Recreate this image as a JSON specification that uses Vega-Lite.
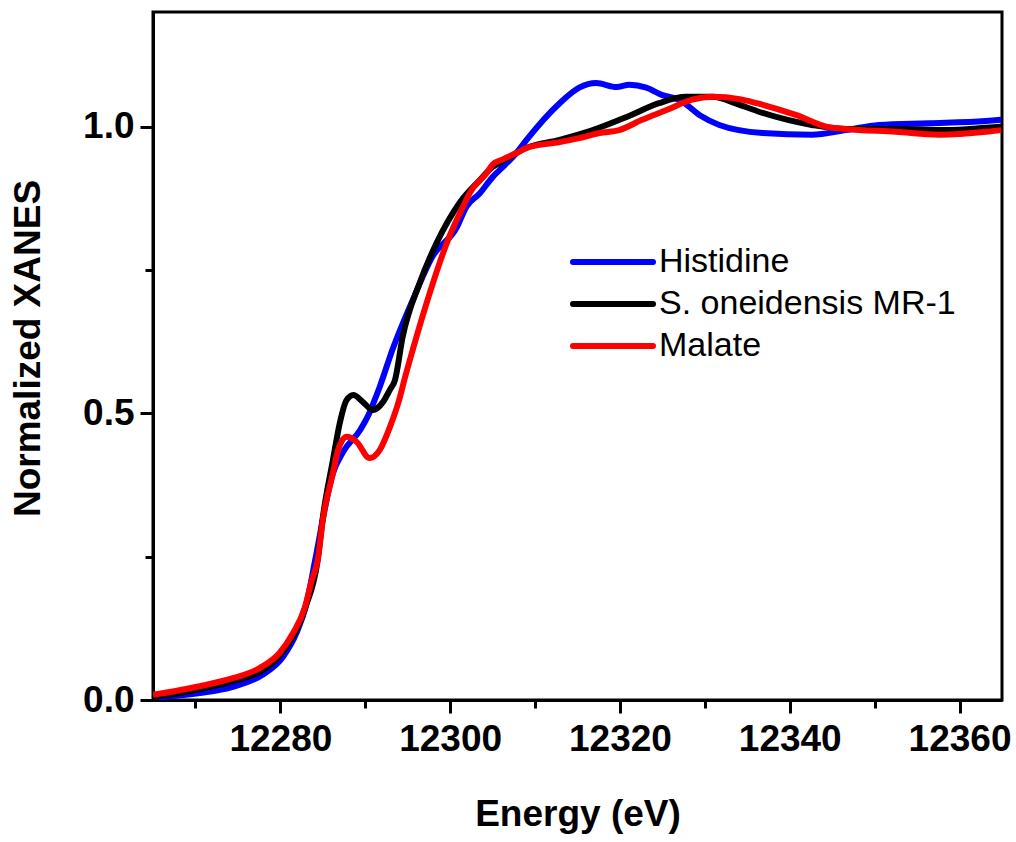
{
  "$schema": "https://vega.github.io/schema/vega-lite/v6.json",
  "autosize": {"type": "none"},
  "width": 849,
  "height": 688,
  "padding": {"left": 153, "top": 12, "right": 14, "bottom": 142},
  "background": "white",
  "config": {
    "font": "Liberation Sans",
    "view": {"stroke": "black", "strokeWidth": 3},
    "axis": {"domainColor": "black", "domainWidth": 3, "tickColor": "black", "tickWidth": 3, "tickSize": 13, "labelFont": "Liberation Sans", "labelFontSize": 37, "labelFontWeight": "bold", "labelColor": "black", "titleFont": "Liberation Sans", "titleFontSize": 37, "titleFontWeight": "bold", "titleColor": "black", "grid": false}
  },
  "data": {"values": [
    {"s": "Histidine", "e": 12265.0, "v": 0.004},
    {"s": "Histidine", "e": 12270.5, "v": 0.012},
    {"s": "Histidine", "e": 12274.4, "v": 0.023},
    {"s": "Histidine", "e": 12277.9, "v": 0.044},
    {"s": "Histidine", "e": 12280.3, "v": 0.075},
    {"s": "Histidine", "e": 12281.9, "v": 0.117},
    {"s": "Histidine", "e": 12283.1, "v": 0.169},
    {"s": "Histidine", "e": 12284.1, "v": 0.244},
    {"s": "Histidine", "e": 12286.2, "v": 0.396},
    {"s": "Histidine", "e": 12287.4, "v": 0.433},
    {"s": "Histidine", "e": 12289.4, "v": 0.471},
    {"s": "Histidine", "e": 12290.5, "v": 0.501},
    {"s": "Histidine", "e": 12291.1, "v": 0.523},
    {"s": "Histidine", "e": 12291.7, "v": 0.546},
    {"s": "Histidine", "e": 12293.2, "v": 0.611},
    {"s": "Histidine", "e": 12295.6, "v": 0.698},
    {"s": "Histidine", "e": 12297.9, "v": 0.773},
    {"s": "Histidine", "e": 12300.8, "v": 0.825},
    {"s": "Histidine", "e": 12301.9, "v": 0.860},
    {"s": "Histidine", "e": 12303.5, "v": 0.884},
    {"s": "Histidine", "e": 12305.0, "v": 0.912},
    {"s": "Histidine", "e": 12305.8, "v": 0.924},
    {"s": "Histidine", "e": 12307.8, "v": 0.954},
    {"s": "Histidine", "e": 12309.0, "v": 0.977},
    {"s": "Histidine", "e": 12312.9, "v": 1.041},
    {"s": "Histidine", "e": 12315.2, "v": 1.068},
    {"s": "Histidine", "e": 12317.2, "v": 1.076},
    {"s": "Histidine", "e": 12319.6, "v": 1.069},
    {"s": "Histidine", "e": 12321.1, "v": 1.073},
    {"s": "Histidine", "e": 12323.1, "v": 1.068},
    {"s": "Histidine", "e": 12325.0, "v": 1.055},
    {"s": "Histidine", "e": 12327.0, "v": 1.047},
    {"s": "Histidine", "e": 12329.4, "v": 1.020},
    {"s": "Histidine", "e": 12331.7, "v": 1.003},
    {"s": "Histidine", "e": 12336.8, "v": 0.989},
    {"s": "Histidine", "e": 12342.6, "v": 0.986},
    {"s": "Histidine", "e": 12346.6, "v": 0.994},
    {"s": "Histidine", "e": 12350.5, "v": 1.003},
    {"s": "Histidine", "e": 12356.4, "v": 1.006},
    {"s": "Histidine", "e": 12363.1, "v": 1.010},
    {"s": "Histidine", "e": 12364.9, "v": 1.012},
    {"s": "S. oneidensis MR-1", "e": 12265.0, "v": 0.005},
    {"s": "S. oneidensis MR-1", "e": 12270.5, "v": 0.019},
    {"s": "S. oneidensis MR-1", "e": 12274.4, "v": 0.033},
    {"s": "S. oneidensis MR-1", "e": 12277.9, "v": 0.052},
    {"s": "S. oneidensis MR-1", "e": 12280.3, "v": 0.084},
    {"s": "S. oneidensis MR-1", "e": 12282.9, "v": 0.160},
    {"s": "S. oneidensis MR-1", "e": 12284.4, "v": 0.244},
    {"s": "S. oneidensis MR-1", "e": 12285.0, "v": 0.318},
    {"s": "S. oneidensis MR-1", "e": 12286.2, "v": 0.419},
    {"s": "S. oneidensis MR-1", "e": 12287.0, "v": 0.483},
    {"s": "S. oneidensis MR-1", "e": 12287.8, "v": 0.523},
    {"s": "S. oneidensis MR-1", "e": 12288.6, "v": 0.532},
    {"s": "S. oneidensis MR-1", "e": 12289.7, "v": 0.520},
    {"s": "S. oneidensis MR-1", "e": 12290.9, "v": 0.506},
    {"s": "S. oneidensis MR-1", "e": 12292.1, "v": 0.520},
    {"s": "S. oneidensis MR-1", "e": 12292.9, "v": 0.541},
    {"s": "S. oneidensis MR-1", "e": 12293.5, "v": 0.558},
    {"s": "S. oneidensis MR-1", "e": 12294.4, "v": 0.633},
    {"s": "S. oneidensis MR-1", "e": 12296.4, "v": 0.727},
    {"s": "S. oneidensis MR-1", "e": 12298.4, "v": 0.797},
    {"s": "S. oneidensis MR-1", "e": 12301.1, "v": 0.867},
    {"s": "S. oneidensis MR-1", "e": 12303.5, "v": 0.907},
    {"s": "S. oneidensis MR-1", "e": 12305.0, "v": 0.930},
    {"s": "S. oneidensis MR-1", "e": 12305.8, "v": 0.937},
    {"s": "S. oneidensis MR-1", "e": 12307.8, "v": 0.954},
    {"s": "S. oneidensis MR-1", "e": 12309.0, "v": 0.963},
    {"s": "S. oneidensis MR-1", "e": 12312.9, "v": 0.977},
    {"s": "S. oneidensis MR-1", "e": 12316.8, "v": 0.994},
    {"s": "S. oneidensis MR-1", "e": 12320.8, "v": 1.017},
    {"s": "S. oneidensis MR-1", "e": 12324.6, "v": 1.041},
    {"s": "S. oneidensis MR-1", "e": 12327.8, "v": 1.052},
    {"s": "S. oneidensis MR-1", "e": 12330.9, "v": 1.052},
    {"s": "S. oneidensis MR-1", "e": 12334.1, "v": 1.038},
    {"s": "S. oneidensis MR-1", "e": 12336.8, "v": 1.024},
    {"s": "S. oneidensis MR-1", "e": 12342.6, "v": 1.003},
    {"s": "S. oneidensis MR-1", "e": 12346.6, "v": 0.996},
    {"s": "S. oneidensis MR-1", "e": 12352.5, "v": 0.996},
    {"s": "S. oneidensis MR-1", "e": 12358.4, "v": 0.994},
    {"s": "S. oneidensis MR-1", "e": 12363.1, "v": 0.998},
    {"s": "S. oneidensis MR-1", "e": 12364.9, "v": 1.000},
    {"s": "Malate", "e": 12265.0, "v": 0.009},
    {"s": "Malate", "e": 12270.5, "v": 0.024},
    {"s": "Malate", "e": 12274.4, "v": 0.038},
    {"s": "Malate", "e": 12277.6, "v": 0.056},
    {"s": "Malate", "e": 12279.9, "v": 0.082},
    {"s": "Malate", "e": 12281.5, "v": 0.117},
    {"s": "Malate", "e": 12282.9, "v": 0.162},
    {"s": "Malate", "e": 12283.7, "v": 0.209},
    {"s": "Malate", "e": 12284.4, "v": 0.244},
    {"s": "Malate", "e": 12285.0, "v": 0.314},
    {"s": "Malate", "e": 12286.2, "v": 0.396},
    {"s": "Malate", "e": 12286.8, "v": 0.436},
    {"s": "Malate", "e": 12287.8, "v": 0.459},
    {"s": "Malate", "e": 12289.0, "v": 0.450},
    {"s": "Malate", "e": 12290.5, "v": 0.422},
    {"s": "Malate", "e": 12291.7, "v": 0.436},
    {"s": "Malate", "e": 12292.9, "v": 0.476},
    {"s": "Malate", "e": 12294.1, "v": 0.529},
    {"s": "Malate", "e": 12294.6, "v": 0.558},
    {"s": "Malate", "e": 12295.6, "v": 0.611},
    {"s": "Malate", "e": 12297.6, "v": 0.710},
    {"s": "Malate", "e": 12299.6, "v": 0.797},
    {"s": "Malate", "e": 12301.9, "v": 0.872},
    {"s": "Malate", "e": 12302.3, "v": 0.884},
    {"s": "Malate", "e": 12304.3, "v": 0.919},
    {"s": "Malate", "e": 12305.0, "v": 0.934},
    {"s": "Malate", "e": 12306.2, "v": 0.943},
    {"s": "Malate", "e": 12307.8, "v": 0.954},
    {"s": "Malate", "e": 12309.0, "v": 0.963},
    {"s": "Malate", "e": 12312.9, "v": 0.973},
    {"s": "Malate", "e": 12315.2, "v": 0.980},
    {"s": "Malate", "e": 12317.6, "v": 0.989},
    {"s": "Malate", "e": 12319.9, "v": 0.994},
    {"s": "Malate", "e": 12322.6, "v": 1.012},
    {"s": "Malate", "e": 12325.5, "v": 1.029},
    {"s": "Malate", "e": 12328.5, "v": 1.047},
    {"s": "Malate", "e": 12330.9, "v": 1.052},
    {"s": "Malate", "e": 12334.1, "v": 1.048},
    {"s": "Malate", "e": 12336.1, "v": 1.041},
    {"s": "Malate", "e": 12340.8, "v": 1.020},
    {"s": "Malate", "e": 12344.6, "v": 0.999},
    {"s": "Malate", "e": 12346.6, "v": 0.996},
    {"s": "Malate", "e": 12352.5, "v": 0.991},
    {"s": "Malate", "e": 12357.6, "v": 0.986},
    {"s": "Malate", "e": 12363.1, "v": 0.991},
    {"s": "Malate", "e": 12364.9, "v": 0.994}
  ]},
  "mark": {"type": "line", "strokeWidth": 6, "interpolate": "monotone", "clip": true},
  "encoding": {
    "x": {"field": "e", "type": "quantitative",
      "scale": {"domain": [12265, 12365], "nice": false, "zero": false},
      "axis": {"title": "Energy (eV)", "values": [12270, 12280, 12290, 12300, 12310, 12320, 12330, 12340, 12350, 12360],
        "format": "d", "labelExpr": "datum.value % 20 === 0 ? datum.label : ''",
        "tickSize": {"condition": {"test": "datum.value % 20 === 0", "value": 13}, "value": 8},
        "labelPadding": 8, "titlePadding": 39, "labelFlush": false, "labelOverlap": false}},
    "y": {"field": "v", "type": "quantitative",
      "scale": {"domain": [0, 1.2], "nice": false},
      "axis": {"title": "Normalized XANES", "values": [0, 0.25, 0.5, 0.75, 1.0],
        "format": ".1f", "labelExpr": "datum.value * 4 % 2 === 0 ? datum.label : ''",
        "tickSize": {"condition": {"test": "datum.value * 4 % 2 === 0", "value": 13}, "value": 8},
        "labelPadding": 6, "titlePadding": 35, "titleY": 336, "labelFlush": false, "labelOverlap": false}},
    "color": {"field": "s", "type": "nominal",
      "scale": {"domain": ["Histidine", "S. oneidensis MR-1", "Malate"], "range": ["#0000ff", "#000000", "#ff0000"]},
      "legend": {"title": null, "orient": "none", "legendX": 457, "legendY": 227, "padding": 0,
        "symbolType": "M-3,0H1", "symbolSize": 1600, "symbolStrokeWidth": 6, "rowPadding": 2,
        "labelFont": "Liberation Sans", "labelFontSize": 34, "labelColor": "black", "labelOffset": 3, "labelLimit": 500,
        "encode": {"symbols": {"update": {"strokeCap": {"value": "round"}}}}}}
  }
}
